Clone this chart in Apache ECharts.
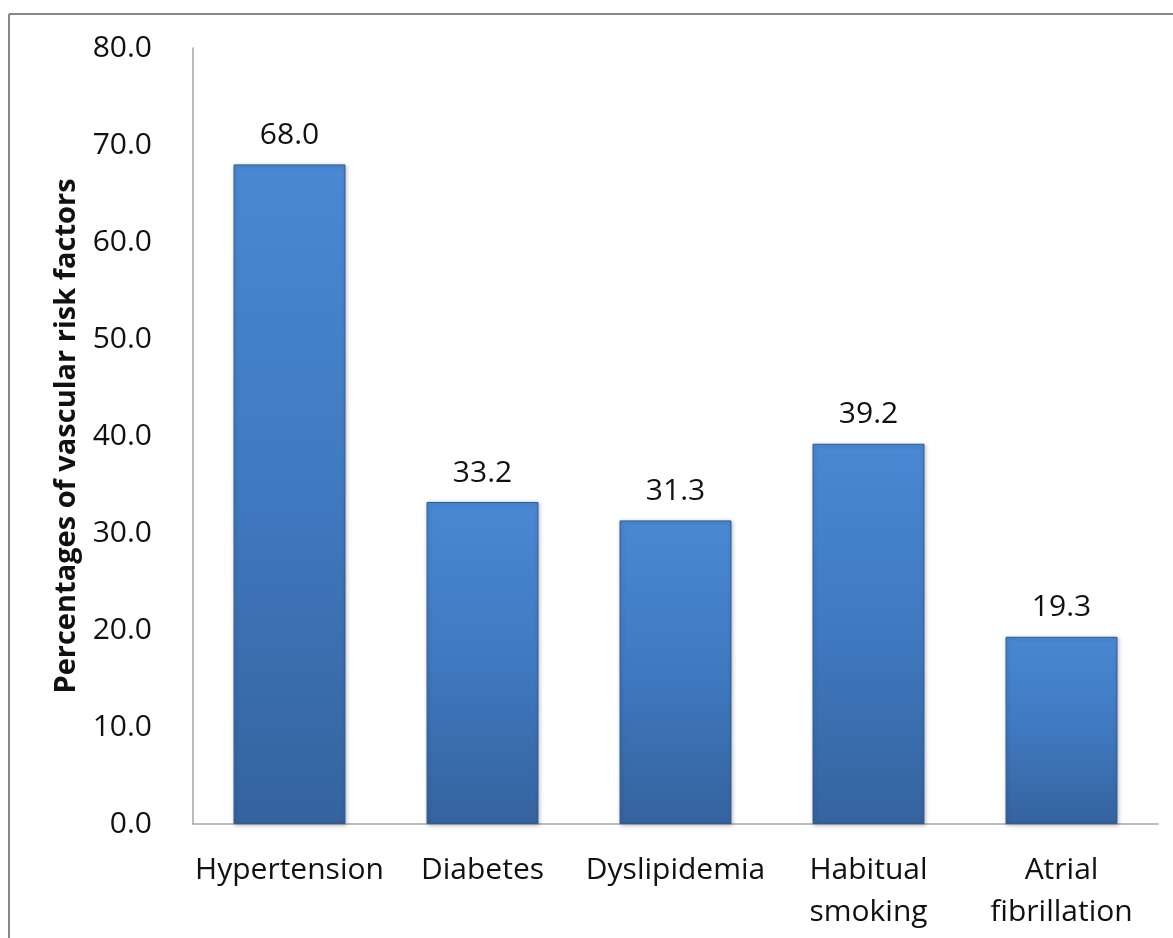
<!DOCTYPE html>
<html>
<head>
<meta charset="utf-8">
<script src="https://cdn.jsdelivr.net/npm/echarts@6/dist/echarts.min.js"></script>
<style>
html,body{margin:0;padding:0;background:#fff;}
#chart{width:1173px;height:938px;}
</style>
</head>
<body>
<div id="chart"></div>
<script>
const categories = ['Hypertension', 'Diabetes', 'Dyslipidemia', 'Habitual\nsmoking', 'Atrial\nfibrillation'];
const values = [68.0, 33.2, 31.3, 39.2, 19.3];
const yTitle = 'Percentages of vascular risk factors';

const chart = echarts.init(document.getElementById('chart'));
const FONT = '"Open Sans", "Noto Sans", sans-serif';
chart.setOption({
  animation: false,
  backgroundColor: '#ffffff',
  graphic: [
    { type: 'line', shape: { x1: 9, y1: 14, x2: 1180, y2: 14 }, style: { stroke: '#878787', lineWidth: 2 } },
    { type: 'line', shape: { x1: 9, y1: 14, x2: 9, y2: 945 }, style: { stroke: '#878787', lineWidth: 2 } }
  ],
  grid: { left: 193, right: 15, top: 48, bottom: 114, containLabel: false },
  xAxis: {
    type: 'category',
    data: categories,
    axisLine: { show: true, lineStyle: { color: '#a6a6a6', width: 1.5 } },
    axisTick: { show: false },
    axisLabel: {
      color: '#111', fontFamily: FONT, fontSize: 30, margin: 25, lineHeight: 42, interval: 0
    }
  },
  yAxis: {
    type: 'value',
    min: 0, max: 80, interval: 10,
    name: yTitle,
    nameLocation: 'middle',
    nameGap: 112,
    nameRotate: 90,
    nameTextStyle: { color: '#111', fontFamily: FONT, fontSize: 29, fontWeight: 'bold' },
    axisLine: { show: true, lineStyle: { color: '#a6a6a6', width: 1.5 } },
    axisTick: { show: false },
    splitLine: { show: false },
    axisLabel: {
      color: '#111', fontFamily: FONT, fontSize: 30, margin: 41,
      formatter: v => v.toFixed(1)
    }
  },
  series: [{
    type: 'bar',
    data: values,
    barWidth: '58%',
    itemStyle: {
      color: {
        type: 'linear', x: 0, y: 0, x2: 0, y2: 1,
        colorStops: [
          { offset: 0, color: '#4a88d4' },
          { offset: 0.5, color: '#3f79c0' },
          { offset: 1, color: '#35639e' }
        ]
      },
      borderColor: '#2f5b94',
      borderWidth: 1,
      shadowColor: 'rgba(0,0,0,0.25)',
      shadowBlur: 4,
      shadowOffsetX: 1,
      shadowOffsetY: 1
    },
    label: {
      show: true, position: 'top', distance: 14,
      color: '#111', fontFamily: FONT, fontSize: 30,
      formatter: p => p.value.toFixed(1)
    }
  }]
});
</script>
</body>
</html>
